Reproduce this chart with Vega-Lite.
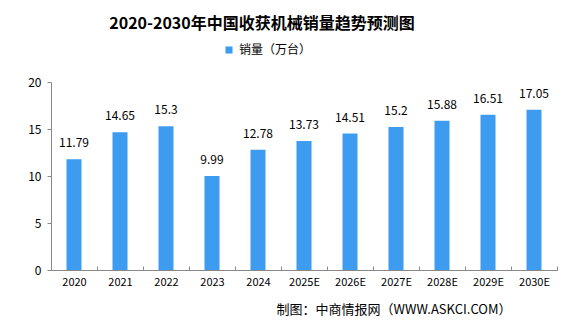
{
  "$schema": "https://vega.github.io/schema/vega-lite/v6.json",
  "width": 506,
  "height": 188,
  "autosize": {"type": "none"},
  "padding": {"left": 51, "top": 82, "right": 19, "bottom": 57},
  "background": "white",
  "title": {
    "text": "2020-2030年中国收获机械销量趋势预测图",
    "font": "Noto Sans CJK SC",
    "fontSize": 16,
    "fontWeight": "bold",
    "color": "#000000",
    "anchor": "middle",
    "frame": "group",
    "dx": -42,
    "offset": 12
  },
  "data": {
    "values": [
      {"year": "2020", "value": 11.79, "series": "销量（万台）"},
      {"year": "2021", "value": 14.65, "series": "销量（万台）"},
      {"year": "2022", "value": 15.3, "series": "销量（万台）"},
      {"year": "2023", "value": 9.99, "series": "销量（万台）"},
      {"year": "2024", "value": 12.78, "series": "销量（万台）"},
      {"year": "2025E", "value": 13.73, "series": "销量（万台）"},
      {"year": "2026E", "value": 14.51, "series": "销量（万台）"},
      {"year": "2027E", "value": 15.2, "series": "销量（万台）"},
      {"year": "2028E", "value": 15.88, "series": "销量（万台）"},
      {"year": "2029E", "value": 16.51, "series": "销量（万台）"},
      {"year": "2030E", "value": 17.05, "series": "销量（万台）"}
    ]
  },
  "encoding": {
    "x": {
      "field": "year",
      "type": "nominal",
      "sort": null,
      "scale": {"paddingInner": 0, "paddingOuter": 0},
      "axis": {
        "title": "制图：中商情报网（WWW.ASKCI.COM）",
        "titleFont": "Noto Sans CJK SC",
        "titleFontSize": 13,
        "titleFontWeight": "normal",
        "titleColor": "#000000",
        "titleAlign": "right",
        "titleAnchor": "end",
        "titleX": 460,
        "titlePadding": 16,
        "labelAngle": 0,
        "labelFont": "Noto Sans CJK SC",
        "labelFontSize": 11,
        "labelColor": "#000000",
        "labelPadding": 10,
        "domainColor": "#888888",
        "tickColor": "#888888",
        "tickBand": "extent",
        "tickSize": -4,
        "grid": false
      }
    },
    "y": {
      "field": "value",
      "type": "quantitative",
      "scale": {"domain": [0, 20]},
      "axis": {
        "title": null,
        "values": [0, 5, 10, 15, 20],
        "labelFont": "Noto Sans CJK SC",
        "labelFontSize": 12,
        "labelColor": "#000000",
        "labelPadding": 6,
        "domainColor": "#888888",
        "tickColor": "#888888",
        "tickSize": 4,
        "grid": false
      }
    }
  },
  "layer": [
    {
      "mark": {"type": "bar", "width": 15, "color": "#3d9cf0"},
      "encoding": {
        "color": {
          "field": "series",
          "type": "nominal",
          "scale": {"range": ["#3d9cf0"]},
          "legend": {
            "title": null,
            "orient": "none",
            "legendX": 172,
            "legendY": -38,
            "direction": "horizontal",
            "symbolType": "square",
            "symbolSize": 50,
            "labelFont": "Noto Sans CJK SC",
            "labelFontSize": 12,
            "labelColor": "#000000"
          }
        }
      }
    },
    {
      "mark": {"type": "text", "dy": -9, "font": "Noto Sans CJK SC", "fontSize": 12, "color": "#000000", "baseline": "bottom"},
      "encoding": {"text": {"field": "value", "type": "quantitative"}}
    }
  ],
  "config": {"view": {"stroke": null}}
}
